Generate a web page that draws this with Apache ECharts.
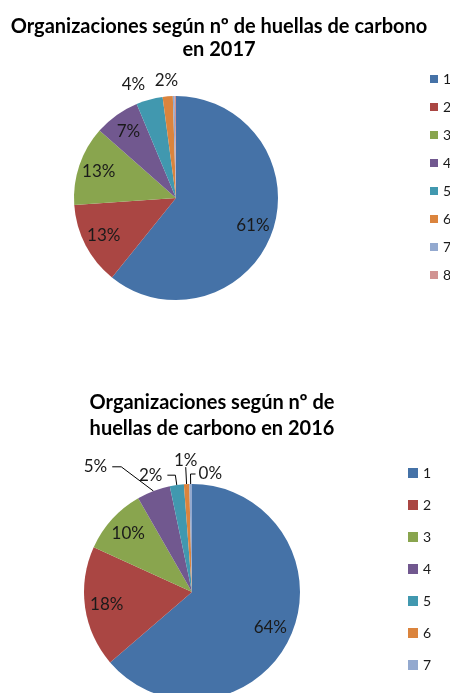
<!DOCTYPE html>
<html>
<head>
<meta charset="utf-8">
<script src="https://cdn.jsdelivr.net/npm/echarts@6/dist/echarts.min.js"></script>
<style>
html,body{margin:0;padding:0;background:#fff;}
#main{width:450px;height:693px;}
</style>
</head>
<body>
<div id="main"></div>
<script>
// ---- data ----
const title2017 = 'Organizaciones según nº de huellas de carbono\nen 2017';
const title2016 = 'Organizaciones según nº de\nhuellas de carbono en 2016';
const categories2017 = ['1', '2', '3', '4', '5', '6', '7', '8'];
const values2017 = [60.8, 13.1, 12.6, 7.2, 4.2, 1.6, 0.3, 0.2];
const categories2016 = ['1', '2', '3', '4', '5', '6', '7'];
const values2016 = [63.7, 18.1, 9.9, 5.0, 2.1, 0.8, 0.4];

// ---- styles ----
const colors = ['#4572A7', '#AA4643', '#89A54E', '#71588F', '#4198AF', '#DB843D', '#93A9CF', '#D19392'];
const FONT = 'Lato, "Open Sans", sans-serif';
const TXT = '#1a1a1a';

// outside-label leader settings per slice index (layout only)
const lines2017 = { 4: { length: 16, length2: 0 }, 5: { length: 16, length2: 0 } };
const lines2016 = { 3: { length: 26, length2: 32 }, 4: { length: 10, length2: 8 }, 5: { length: 17, length2: 0 }, 6: { length: 10, length2: 0 } };
const mode2017 = { 5: 'center' };
const mode2016 = { 3: 'elbow', 5: 'above', 6: 'flip' };

function pct(vals, i) {
  const t = vals.reduce((a, b) => a + b, 0);
  return vals[i] / t * 100;
}

function mainData(cats, vals, lines, showZero, showLine) {
  return cats.map((c, i) => {
    const p = pct(vals, i);
    const outside = p < 6;
    const item = { name: c, value: vals[i] };
    item.label = { show: outside && (showZero || Math.round(p) > 0) };
    const l = lines[i] || { length: 10, length2: 0 };
    item.labelLine = { show: showLine, length: l.length, length2: l.length2 };
    return item;
  });
}
function innerData(cats, vals) {
  return cats.map((c, i) => ({ name: c, value: vals[i], label: { show: pct(vals, i) >= 6 } }));
}

function layoutFn(modes) {
  return function (p) {
    const m = modes[p.dataIndex];
    if (!m) return;
    const r = p.labelRect;
    const pts = p.labelLinePoints;
    if (m === 'center') {
      return { x: r.x + r.width, y: r.y + r.height / 2, align: 'center', verticalAlign: 'middle' };
    }
    if (!pts) return;
    const p1 = pts[1];
    if (m === 'elbow') {
      const p2 = pts[2];
      return { labelLinePoints: [pts[0], [p2[0] + 9, p2[1]], p2] };
    }
    if (m === 'above') {
      return { x: p1[0], y: p1[1] + 2, align: 'center', verticalAlign: 'bottom', labelLinePoints: [pts[0], p1, p1] };
    }
    if (m === 'flip') {
      const p2 = [p1[0] + 5, p1[1]];
      return { x: p2[0] + 3, y: p2[1], align: 'left', verticalAlign: 'middle', labelLinePoints: [pts[0], p1, p2] };
    }
  };
}

const labelFmt = (prm) => Math.round(prm.percent) + '%';
const labelText = { fontFamily: FONT, fontSize: 17, color: TXT };

function series(cats, vals, center, R, lines, modes, showZero, showLine) {
  return [
    {
      type: 'pie', center: center, radius: R, startAngle: 90, clockwise: true,
      avoidLabelOverlap: false, animation: false,
      itemStyle: { borderWidth: 0 },
      data: mainData(cats, vals, lines, showZero, showLine),
      label: Object.assign({ position: 'outside', formatter: labelFmt, distanceToLabelLine: showLine ? 5 : 0 }, labelText),
      labelLine: { lineStyle: { color: '#000', width: 1 }, smooth: false },
      labelLayout: layoutFn(modes),
      emphasis: { disabled: true }
    },
    {
      type: 'pie', center: center, radius: [R * 0.54, R], startAngle: 90, clockwise: true,
      avoidLabelOverlap: false, animation: false, silent: true,
      itemStyle: { color: 'rgba(0,0,0,0)', borderWidth: 0 },
      data: innerData(cats, vals),
      label: Object.assign({ position: 'inside', formatter: labelFmt }, labelText),
      labelLine: { show: false },
      emphasis: { disabled: true }
    }
  ];
}

const chart = echarts.init(document.getElementById('main'), null, { renderer: 'canvas' });
chart.setOption({
  animation: false,
  color: colors,
  title: [
    { text: title2017, left: 214, top: 10, textAlign: 'center',
      textStyle: { fontFamily: FONT, fontWeight: 'bold', fontSize: 20, lineHeight: 23, color: '#000' } },
    { text: title2016, left: 207, top: 385, textAlign: 'center',
      textStyle: { fontFamily: FONT, fontWeight: 'bold', fontSize: 20, lineHeight: 26, color: '#000' } }
  ],
  legend: [
    { data: categories2017, orient: 'vertical', left: 425, top: 67, icon: 'rect',
      itemWidth: 8, itemHeight: 8, itemGap: 14, selectedMode: false,
      textStyle: { fontFamily: FONT, fontSize: 14, lineHeight: 14, color: TXT } },
    { data: categories2016, orient: 'vertical', left: 403, top: 461, icon: 'rect',
      itemWidth: 10, itemHeight: 10, itemGap: 18, selectedMode: false,
      textStyle: { fontFamily: FONT, fontSize: 14, lineHeight: 14, color: TXT } }
  ],
  series: [].concat(
    series(categories2017, values2017, [176, 198], 102, lines2017, mode2017, false, false),
    series(categories2016, values2016, [192, 592], 108, lines2016, mode2016, true, true)
  )
});
</script>
</body>
</html>
